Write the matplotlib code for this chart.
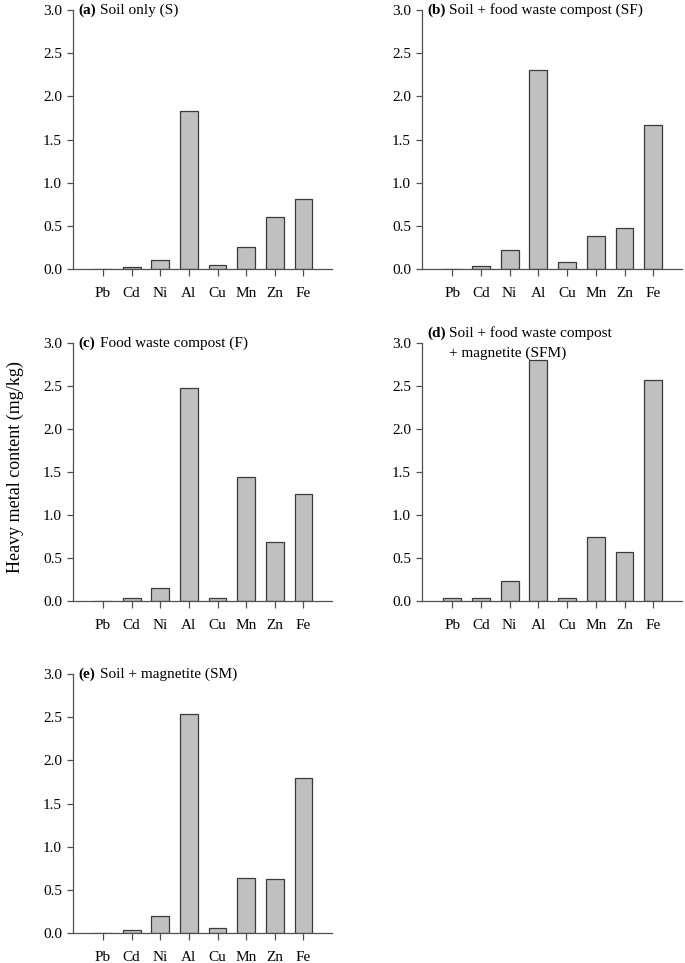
import matplotlib
matplotlib.use("Agg")
import matplotlib.pyplot as plt
from matplotlib.transforms import offset_copy

plt.rcParams["font.family"] = ["Liberation Serif", "DejaVu Serif"]

metals = ["Pb", "Cd", "Ni", "Al", "Cu", "Mn", "Zn", "Fe"]

soil_s = [0.0, 0.02, 0.11, 1.83, 0.05, 0.26, 0.60, 0.81]
soil_compost_sf = [0.0, 0.03, 0.22, 2.30, 0.08, 0.38, 0.47, 1.67]
compost_f = [0.0, 0.03, 0.15, 2.48, 0.04, 1.44, 0.69, 1.24]
soil_compost_mag_sfm = [0.03, 0.03, 0.23, 2.80, 0.04, 0.74, 0.57, 2.57]
soil_mag_sm = [0.0, 0.03, 0.20, 2.54, 0.06, 0.64, 0.62, 1.79]

panel_tags = ["(a)", "(b)", "(c)", "(d)", "(e)"]
panel_titles = [
    ["Soil only (S)"],
    ["Soil + food waste compost (SF)"],
    ["Food waste compost (F)"],
    ["Soil + food waste compost", "+ magnetite (SFM)"],
    ["Soil + magnetite (SM)"],
]
panel_values = [soil_s, soil_compost_sf, compost_f, soil_compost_mag_sfm, soil_mag_sm]

yticks = [0.0, 0.5, 1.0, 1.5, 2.0, 2.5, 3.0]

W, H = 685, 963
fig = plt.figure(figsize=(W / 100, H / 100), dpi=100)

# axes boxes in pixels: (left, top, right, bottom)
boxes = [
    (73, 10, 332, 269),
    (422, 10, 682, 269),
    (73, 343, 332, 601),
    (422, 343, 682, 601),
    (73, 674, 332, 933),
]

edge = "#3a3a3a"
fs = 11

for i, (box, vals) in enumerate(zip(boxes, panel_values)):
    l, t, r, b = box
    ax = fig.add_axes([l / W, 1 - b / H, (r - l) / W, (b - t) / H])
    x = list(range(len(metals)))
    ax.bar(x, vals, width=0.62, color="#c0c0c0", edgecolor=edge, linewidth=0.9)
    ax.set_xlim(-1.05, 8.0)
    ax.set_ylim(0, 3.0)
    ax.set_yticks(yticks)
    ax.set_yticklabels([f"{v:.1f}" for v in yticks], fontsize=fs)
    ax.set_xticks(x)
    ax.set_xticklabels(metals, fontsize=fs)
    for s in ("top", "right"):
        ax.spines[s].set_visible(False)
    for s in ("left", "bottom"):
        ax.spines[s].set_color("#505050")
        ax.spines[s].set_linewidth(0.9)
    ax.tick_params(direction="out", length=4, width=0.9, color="#505050", pad=4)
    ax.tick_params(axis="x", length=5, pad=8)

    lines = panel_titles[i]
    # first line sits on the top of the axis, or above it for two-line titles
    dy0 = 0 if len(lines) == 1 else 10
    tr_tag = offset_copy(ax.transAxes, fig=fig, x=5, y=dy0, units="dots")
    ax.text(0, 1, panel_tags[i], transform=tr_tag, fontsize=fs,
            fontweight="bold", ha="left", va="center")
    for k, line in enumerate(lines):
        tr = offset_copy(ax.transAxes, fig=fig, x=27, y=dy0 - 20 * k, units="dots")
        ax.text(0, 1, line, transform=tr, fontsize=fs, ha="left", va="center")

fig.text(15 / W, 1 - 467 / H, "Heavy metal content (mg/kg)", rotation=90,
         ha="center", va="center", fontsize=13)

fig.savefig("out.png", dpi=100)
